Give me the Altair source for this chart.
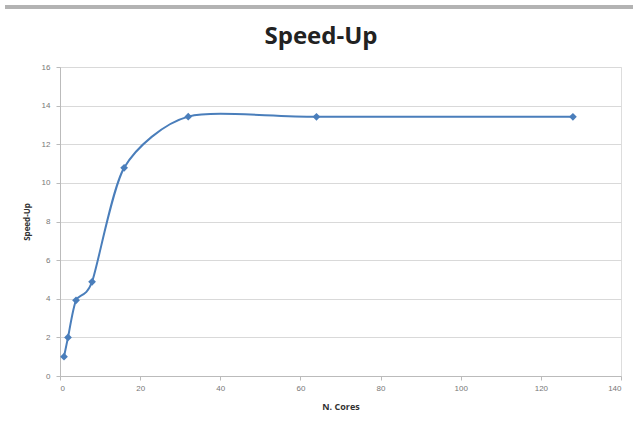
import altair as alt
import pandas as pd

cores = [1, 2, 4, 8, 16, 32, 64, 128]
speedup = [1.0, 2.0, 3.92, 4.88, 10.78, 13.43, 13.42, 13.42]
chart_title = "Speed-Up"

df = pd.DataFrame({"cores": cores, "speedup": speedup})

base = alt.Chart(df)

x = alt.X("cores:Q", title="N. Cores",
          scale=alt.Scale(domain=[0, 140], nice=False),
          axis=alt.Axis(values=list(range(0, 141, 20)), grid=False,
                        labelFontSize=8, labelColor="#777777",
                        titleFontSize=9, titleFontWeight="bold", titleColor="#333333",
                        titlePadding=10, domainColor="#bbbbbb", tickColor="#bbbbbb",
                        tickSize=4, labelPadding=4, labelFont="Liberation Sans",
                        titleFont="Open Sans"))
y = alt.Y("speedup:Q", title="Speed-Up",
          scale=alt.Scale(domain=[0, 16], nice=False),
          axis=alt.Axis(values=list(range(0, 17, 2)), grid=True, gridColor="#d9d9d9",
                        labelFontSize=8, labelColor="#777777",
                        titleFontSize=8, titleFontWeight="bold", titleColor="#333333",
                        titlePadding=10, domainColor="#bbbbbb", tickColor="#bbbbbb",
                        tickSize=4, labelPadding=6, labelFont="Liberation Sans",
                        titleFont="Open Sans"))

line = base.mark_line(interpolate="cardinal", tension=0.25, color="#4a7ebb", strokeWidth=2).encode(x=x, y=y)
pts = base.mark_point(shape="diamond", filled=True, size=60, color="#4a7ebb", opacity=1).encode(x=x, y=y)

one = pd.DataFrame({"t": [chart_title]})
bar = alt.Chart(one).mark_rule(color="#b3b3b3", strokeWidth=4).encode(
    x=alt.value(-55), x2=alt.value(628), y=alt.value(-60))
title = alt.Chart(one).mark_text(font="Open Sans", fontSize=24, fontWeight="bold",
                                 color="#222222", align="center", baseline="middle").encode(
    text="t:N", x=alt.value(261), y=alt.value(-30))

chart = alt.layer(bar, title, line, pts).properties(
    width=561, height=309,
    autosize=alt.AutoSizeParams(type="none"),
    padding={"left": 60, "top": 67, "right": 12, "bottom": 56},
).configure_view(strokeWidth=0).configure(background="white")

chart.save("out.html", embed_options={"renderer": "svg", "actions": False})
